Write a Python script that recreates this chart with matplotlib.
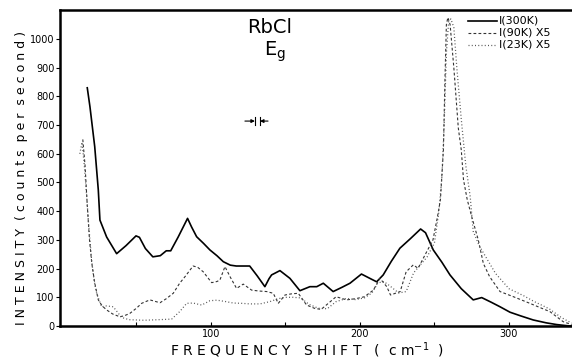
import matplotlib
matplotlib.use("Agg")
import matplotlib.pyplot as plt

# ---- data ----
x300 = [17, 18.8, 22, 24.4, 25.5, 30, 36.7, 43, 49.7, 52, 56, 61, 66, 70, 73, 78, 84.3, 87, 90.4, 95,
        99.3, 104, 108.3, 113, 117, 126, 131, 136.2, 139, 140.7, 146.3, 153, 159.7, 166.4, 171, 175.4,
        182, 188, 193.3, 201, 207, 211.2, 215.6, 221, 226.8, 234, 240.7, 244, 249.2, 255, 260.4, 268,
        276, 281.7, 288, 294, 300.7, 308, 316.3, 325, 332, 339, 342]
y300 = [830, 764, 625, 474, 369, 310, 252, 280, 314, 309, 270, 241, 245, 262, 262, 310, 375, 345, 311, 288,
        265, 245, 224, 212, 209, 209, 175, 137, 165, 178, 193, 166, 123, 137, 137, 149,
        120, 135, 149, 181, 165, 154, 178, 225, 271, 305, 338, 325, 265, 222, 178, 130,
        91, 99, 83, 67, 48, 35, 21, 11, 5, 1, 0]

x90 = [14, 15.5, 17, 18.5, 20, 22, 24.4, 27, 30, 34, 38.9, 42, 45.6, 50, 53.5, 59, 65.8, 70, 74.7, 79,
       82.6, 88, 91, 94.8, 100.5, 104, 106, 109.4, 113, 117.2, 121.7, 127.3, 132, 137.4, 141.8, 145.2,
       149.7, 154, 158.6, 164.2, 169.8, 174, 179, 184, 191, 197, 203, 209, 213.4, 218, 220.5, 227, 231,
       235.8, 239, 243.6, 249, 252, 254, 256, 257, 258, 259, 260.5, 263, 266, 268, 269.5, 272, 275,
       279.4, 282.8, 287, 294, 303, 314, 320, 327.5, 336.4, 342]
y90 = [650, 560, 420, 300, 220, 150, 91, 70, 56, 42, 32, 36, 44, 62, 79, 91, 81, 95, 114, 149,
       172, 209, 205, 189, 151, 155, 160, 207, 170, 131, 146, 125, 122, 120, 114, 79,
       108, 112, 114, 73, 61, 58, 80, 102, 91, 95, 102, 125, 166, 137, 108, 120, 189,
       213, 201, 247, 300, 380, 440, 613, 850, 1050, 1075, 1050, 900, 690, 613, 509, 440, 381,
       300, 218, 172, 120, 102, 79, 66, 50, 15, 5]

x23 = [12, 13.5, 15, 16.5, 17.7, 19.9, 21.5, 23.3, 26.6, 30, 34.4, 37, 40, 45, 55, 65, 73.6, 79, 83.7,
       88, 93.8, 99.3, 104, 110, 115, 120.6, 126, 132.9, 139.6, 145, 150, 155, 160, 166, 172, 178, 184,
       191, 197, 203, 208, 212, 216, 220, 226, 231, 236, 240, 245, 250, 253, 255, 256.5, 258, 259.5,
       261, 263, 265, 268, 271, 274, 276, 280, 287, 291, 300, 310, 317, 327, 335, 342]
y23 = [600, 640, 560, 460, 369, 230, 160, 114, 67, 70, 67, 50, 30, 22, 20, 22, 24, 50, 79,
       80, 73, 88, 90, 85, 80, 79, 77, 77, 85, 95, 100, 100, 98, 75, 62, 60, 85,
       96, 92, 98, 115, 150, 155, 140, 115, 120, 185, 210, 240, 290, 400, 520, 700, 950, 1060,
       1070, 1040, 900, 720, 560, 450, 330, 280, 218, 183, 130, 105, 85, 60, 30, 10]

labels = ["I(300K)", "I(90K) X5", "I(23K) X5"]
yticks = [0, 100, 200, 300, 400, 500, 600, 700, 800, 900, 1000]
xticks_major = [100, 200, 300]
xticks_all = [50, 100, 150, 200, 250, 300]

fig = plt.figure(figsize=(5.72, 3.6), dpi=100)
ax = fig.add_axes([60 / 572, 34 / 360, 512 / 572, 316 / 360])

ax.plot(x300, y300, color="black", lw=1.2, linestyle="-")
ax.plot(x90, y90, color="#333333", lw=0.8, linestyle=(0, (2.5, 2)))
ax.plot(x23, y23, color="#555555", lw=0.9, linestyle=(0, (0.8, 1.8)))

ax.set_xlim(-1.3, 342.3)
ax.set_ylim(0, 1101)

for s in ["left", "bottom", "top"]:
    ax.spines[s].set_linewidth(1.8)
ax.spines["right"].set_visible(False)

ax.set_yticks(yticks)
ax.set_yticklabels([str(v) for v in yticks], fontsize=7)
ax.set_xticks(xticks_all)
ax.set_xticklabels([str(v) if v in xticks_major else "" for v in xticks_all], fontsize=7)
ax.tick_params(axis="y", direction="out", length=3, pad=1)
ax.tick_params(axis="x", direction="in", length=3, pad=2)

# legend drawn manually (as in the original)
leg_y = [1064, 1022, 980]
styles = [("-", 1.2, "black"), ((0, (2.5, 2)), 0.8, "#333333"), ((0, (0.8, 1.8)), 0.9, "#555555")]
for yy, lab, (ls, lw, c) in zip(leg_y, labels, styles):
    ax.plot([272.5, 292], [yy, yy], linestyle=ls, lw=lw, color=c, clip_on=False)
    ax.text(293.5, yy, lab, fontsize=8, va="center", ha="left", clip_on=False)

ax.text(139.6, 1040, "RbCl", fontsize=14, ha="center", va="center")
ax.text(143, 955, r"E$_{\rm g}$", fontsize=14, ha="center", va="center")

# resolution marker
ax.annotate("", xy=(129.5, 714), xytext=(122.8, 714),
            arrowprops=dict(arrowstyle="-|>", lw=0.8, color="black", mutation_scale=5, shrinkA=0, shrinkB=0))
ax.annotate("", xy=(132.9, 714), xytext=(138.3, 714),
            arrowprops=dict(arrowstyle="-|>", lw=0.8, color="black", mutation_scale=5, shrinkA=0, shrinkB=0))
ax.plot([129.7, 129.7], [700, 728], color="black", lw=0.8)
ax.plot([132.7, 132.7], [700, 728], color="black", lw=0.8)

fig.text(22 / 572, 1 - 178 / 360, "I N T E N S I T Y  ( c o u n t s  p e r  s e c o n d )",
         rotation=90, fontsize=9, ha="center", va="center")
fig.text(307 / 572, 1 - 350 / 360, r"F R E Q U E N C Y   S H I F T   (  c m$^{-1}$  )",
         fontsize=10, ha="center", va="center")

fig.savefig("out.png", dpi=100)
